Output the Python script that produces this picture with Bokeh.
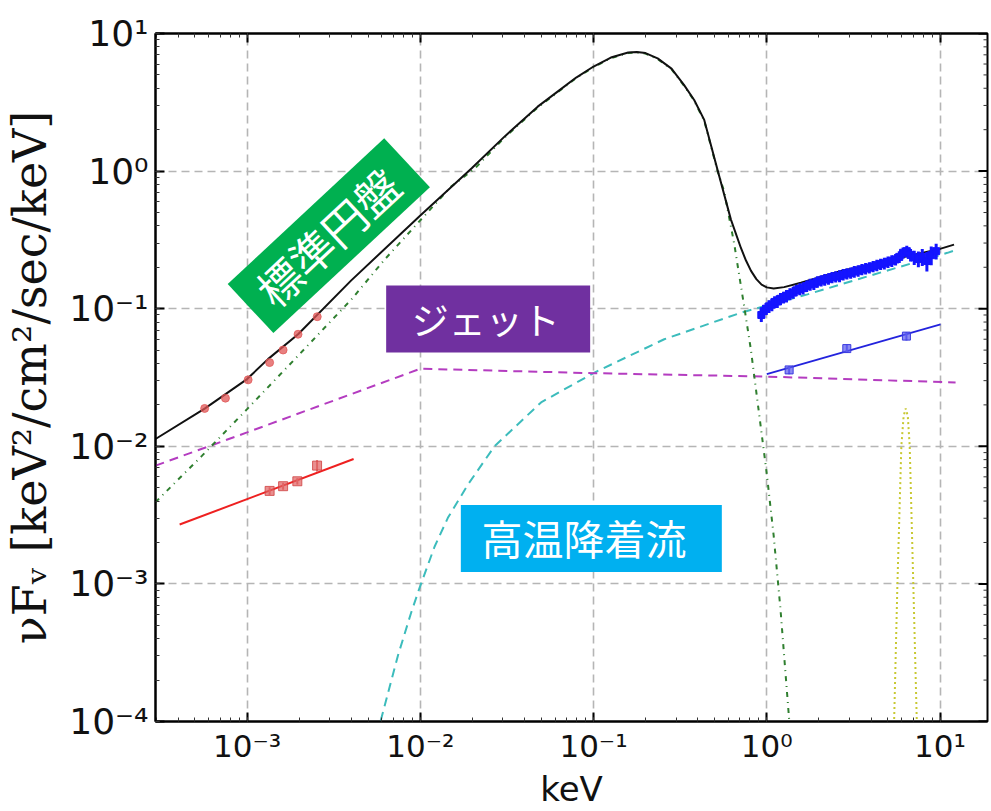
import numpy as np
from bokeh.plotting import figure
from bokeh.models import Range1d, LogAxis, LogTicker, CustomJSTickFormatter
from bokeh.core.properties import value
from bokeh.embed import file_html
from bokeh.resources import INLINE

# ---------------- data (keV, keV^2/cm^2/s/keV) ----------------
total_keV = [2.96e-4, 5.69e-4, 1.0e-3, 1.32e-3, 1.97e-3, 3.98e-3, 0.01, 0.0198, 0.0306,
             0.0476, 0.0631, 0.0794, 0.100, 0.1259, 0.1585, 0.1778, 0.1995, 0.2344,
             0.2818, 0.3334, 0.381, 0.4355, 0.520, 0.621, 0.710, 0.7586, 0.811, 0.871,
             0.933, 1.0, 1.096, 1.259, 1.574, 2.655, 5.01, 10.0, 12.05]
total_flux = [0.0113, 0.0188, 0.0308, 0.0430, 0.0652, 0.160, 0.476, 1.05, 1.78,
              2.94, 3.846, 4.786, 5.754, 6.683, 7.278, 7.345, 7.211, 6.592,
              5.559, 4.217, 3.289, 2.355, 1.02, 0.444, 0.275, 0.2239, 0.1884, 0.1641,
              0.1496, 0.1429, 0.1403, 0.1435, 0.1542, 0.1871, 0.224, 0.272, 0.292]

disk_keV = [2.96e-4, 5.50e-4, 1.0e-3, 1.884e-3, 4.00e-3, 6.22e-3, 9.68e-3, 1.507e-2,
            2.056e-2, 0.0306, 0.0476, 0.0631, 0.0794, 0.100, 0.1259, 0.1585, 0.1778,
            0.1995, 0.2344, 0.2818, 0.3334, 0.381, 0.4355, 0.520, 0.568, 0.649, 0.740,
            0.809, 1.0, 1.096, 1.199, 1.349, 1.396]
disk_flux = [0.003926, 0.00855, 0.01862, 0.04295, 0.1167, 0.2275, 0.4198, 0.7727,
             1.04, 1.75, 2.90, 3.80, 4.74, 5.70, 6.62, 7.21, 7.28, 7.14, 6.53,
             5.50, 4.17, 3.25, 2.32, 1.0, 0.7079, 0.2951, 0.1045, 0.0507, 0.00631,
             0.00224, 6.61e-4, 1.0e-4, 6.31e-5]

jet_keV = [2.96e-4, 1.0e-3, 0.01, 0.1, 1.0, 12.3]
jet_flux = [0.00723, 0.01262, 0.0366, 0.0340, 0.0321, 0.0291]

hot_keV = [5.62e-3, 5.89e-3, 7.43e-3, 8.85e-3, 9.89e-3, 1.208e-2, 1.442e-2, 1.879e-2,
           2.679e-2, 4.977e-2, 0.1012, 0.2559, 0.7096, 1.718, 4.159, 11.04, 12.30]
hot_flux = [7.94e-5, 1.0e-4, 3.02e-4, 6.17e-4, 9.33e-4, 1.862e-3, 3.02e-3, 5.25e-3,
            1.0e-2, 2.084e-2, 3.436e-2, 5.998e-2, 9.354e-2, 0.1271, 0.1774, 0.2547, 0.2661]

line_keV = [5.370, 5.433, 5.675, 5.984, 6.166, 6.339, 6.516, 6.683, 7.015, 7.345, 7.430]
line_flux = [6.31e-5, 1.0e-4, 9.77e-4, 1.009e-2, 1.660e-2, 1.884e-2, 1.660e-2, 1.009e-2,
             9.77e-4, 1.0e-4, 6.31e-5]

opt_hi_keV = [5.69e-4, 7.50e-4, 1.014e-3, 1.349e-3, 1.614e-3, 1.968e-3, 2.541e-3]
opt_hi_flux = [0.01884, 0.02239, 0.0304, 0.0406, 0.0501, 0.0652, 0.0875]

opt_lo_keV = [1.349e-3, 1.614e-3, 1.950e-3, 2.535e-3]
opt_lo_flux = [0.00474, 0.00513, 0.00557, 0.00724]
opt_lo_err = [0.0003, 0.0003, 0.0003, 0.0007]

opt_fit_keV = [4.08e-4, 4.12e-3]
opt_fit_flux = [0.00270, 0.00809]

xlo_keV = [1.346, 2.897, 6.40]
xlo_flux = [0.0359, 0.0513, 0.0632]
xlo_err = [0.0025, 0.0035, 0.0045]

xlo_fit_keV = [1.0, 10.07]
xlo_fit_flux = [0.0334, 0.0769]

spec_keV = [0.93, 0.96, 0.99, 1.03, 1.07, 1.11, 1.15, 1.2, 1.25, 1.3, 1.36, 1.42, 1.48,
            1.55, 1.62, 1.7, 1.78, 1.87, 1.96, 2.06, 2.16, 2.27, 2.38, 2.5, 2.63, 2.76,
            2.9, 3.05, 3.2, 3.37, 3.54, 3.72, 3.91, 4.11, 4.32, 4.54, 4.77, 5.01, 5.27,
            5.54, 5.82, 6.12, 6.43, 6.76, 7.1, 7.5, 7.9, 8.4, 8.9, 9.5]
spec_flux = [0.090, 0.096, 0.100, 0.104, 0.107, 0.112, 0.113, 0.118, 0.121, 0.124, 0.128,
             0.131, 0.136, 0.139, 0.141, 0.146, 0.150, 0.152, 0.157, 0.160, 0.163, 0.165,
             0.169, 0.171, 0.173, 0.177, 0.180, 0.182, 0.186, 0.189, 0.193, 0.196, 0.199,
             0.203, 0.207, 0.211, 0.214, 0.219, 0.223, 0.228, 0.238, 0.255, 0.262, 0.246,
             0.236, 0.230, 0.238, 0.222, 0.245, 0.262]
spec_err = [0.010, 0.010, 0.010, 0.011, 0.011, 0.011, 0.012, 0.012, 0.012, 0.013, 0.013,
            0.013, 0.013, 0.014, 0.014, 0.014, 0.015, 0.015, 0.015, 0.015, 0.016, 0.016,
            0.016, 0.016, 0.017, 0.017, 0.017, 0.017, 0.018, 0.018, 0.018, 0.019, 0.019,
            0.019, 0.02, 0.02, 0.021, 0.021, 0.022, 0.022, 0.023, 0.024, 0.025, 0.026,
            0.028, 0.030, 0.034, 0.036, 0.038, 0.034]

labels = ["標準円盤", "ジェット", "高温降着流"]
label_keV = [0.00290, 0.02390, 0.0880]
label_flux = [0.335, 0.0848, 0.00221]
box_keV = [0.002963, 0.02464, 0.0971]
box_flux = [0.3396, 0.0843, 0.002138]
box_colors = ["#00b050", "#7030a0", "#00b0f0"]

X_MIN, X_MAX = 2.96e-4, 18.8
Y_MIN, Y_MAX = 1e-4, 10.0

# ---------------- figure ----------------
p = figure(width=991, height=811, x_axis_type="log", y_axis_type="log",
           x_range=Range1d(X_MIN, X_MAX), y_range=Range1d(Y_MIN, Y_MAX),
           output_backend="svg", toolbar_location=None,
           min_border_left=154, min_border_right=4, min_border_top=33,
           min_border_bottom=88)
p.background_fill_color = "white"
p.border_fill_color = "white"
p.outline_line_color = "black"
p.outline_line_width = 2

sup_code = """
const e = Math.round(Math.log10(tick));
const m = {"-":"\u207b","0":"\u2070","1":"\u00b9","2":"\u00b2","3":"\u00b3","4":"\u2074",
           "5":"\u2075","6":"\u2076","7":"\u2077","8":"\u2078","9":"\u2079"};
return "10" + String(e).split("").map(c => m[c]).join("");
"""

def style_axis(ax, show_labels):
    ax.ticker = LogTicker(num_minor_ticks=10)
    ax.axis_line_color = "black"
    ax.axis_line_width = 2
    ax.major_tick_in = 9
    ax.major_tick_out = 0
    ax.minor_tick_in = 4
    ax.minor_tick_out = 0
    ax.major_tick_line_width = 2
    ax.minor_tick_line_width = 1
    ax.major_tick_line_color = "black"
    ax.minor_tick_line_color = "#333333"
    if show_labels:
        ax.formatter = CustomJSTickFormatter(code=sup_code)
    else:
        ax.formatter = CustomJSTickFormatter(code="return '';")
        ax.major_label_standoff = 0
        ax.major_label_text_font_size = "1px"

style_axis(p.xaxis[0], True)
style_axis(p.yaxis[0], True)
p.xaxis.major_label_text_font = "DejaVu Sans"
p.xaxis.major_label_text_font_size = "31px"
p.xaxis.major_label_standoff = 6
p.xaxis.major_label_text_color = "#111111"
p.yaxis.major_label_text_font = "DejaVu Sans"
p.yaxis.major_label_text_font_size = "36px"
p.yaxis.major_label_standoff = 7
p.yaxis.major_label_text_color = "#111111"

p.xaxis.axis_label = "keV"
p.xaxis.axis_label_text_font = "DejaVu Sans"
p.xaxis.axis_label_text_font_size = "34px"
p.xaxis.axis_label_text_font_style = "normal"
p.xaxis.axis_label_standoff = 2
p.xaxis.axis_label_text_color = "#111111"

p.yaxis.axis_label = "νFᵥ [keV²/cm²/sec/keV]"
p.yaxis.axis_label_text_font = "DejaVu Serif"
p.yaxis.axis_label_text_font_size = "46px"
p.yaxis.axis_label_text_font_style = "normal"
p.yaxis.axis_label_standoff = 9
p.yaxis.axis_label_text_color = "#111111"

top_ax = LogAxis()
style_axis(top_ax, False)
p.add_layout(top_ax, "above")

# inward ticks on the right spine
maj_y = [10.0 ** k for k in range(-4, 2)]
min_y = [m * 10.0 ** k for k in range(-4, 1) for m in range(2, 10)]
p.scatter([X_MAX] * len(maj_y), maj_y, marker="dash", size=18, line_color="black",
          line_width=2)
p.scatter([X_MAX] * len(min_y), min_y, marker="dash", size=8, line_color="#333333",
          line_width=1)

for g in (p.xgrid[0], p.ygrid[0]):
    g.grid_line_color = "#b5b5b5"
    g.grid_line_dash = "8 5"
    g.grid_line_width = 1.6

# ---------------- model curves ----------------
p.line(hot_keV, hot_flux, line_color="#3cbcbc", line_width=2, line_dash="9 6")
p.line(jet_keV, jet_flux, line_color="#b43cc0", line_width=2, line_dash="9 6")
p.line(disk_keV, disk_flux, line_color="#2f7f2f", line_width=2, line_dash="5 5 1 5")
p.line(line_keV, line_flux, line_color="#c8c832", line_width=2, line_dash="2 3")
p.line(total_keV, total_flux, line_color="#111111", line_width=2)

# ---------------- optical / UV data ----------------
p.line(opt_fit_keV, opt_fit_flux, line_color="#ee2020", line_width=2)
p.scatter(opt_hi_keV, opt_hi_flux, marker="circle", size=8, fill_color="#e05555",
          line_color="#e05555", fill_alpha=0.75, line_alpha=0.75)
olo = np.array(opt_lo_flux)
oerr = np.array(opt_lo_err)
p.segment(opt_lo_keV, olo - oerr, opt_lo_keV, olo + oerr, line_color="#e07070", line_width=2)
p.scatter(opt_lo_keV, opt_lo_flux, marker="square", size=9, fill_color="#e06060",
          line_color="#d04040", fill_alpha=0.7, line_alpha=0.8)

# ---------------- X-ray data ----------------
p.line(xlo_fit_keV, xlo_fit_flux, line_color="#2323dd", line_width=1.8)
xl = np.array(xlo_flux)
xe = np.array(xlo_err)
p.segment(xlo_keV, xl - xe, xlo_keV, xl + xe, line_color="#5a5aee", line_width=2)
p.scatter(xlo_keV, xlo_flux, marker="square", size=8, fill_color="#5a5aee",
          line_color="#3a3ae0", fill_alpha=0.7)

sk = np.array(spec_keV)
sf = np.array(spec_flux)
se = np.array(spec_err)
p.segment(sk, sf - se, sk, sf + se, line_color="#1414ff", line_width=3)
p.segment(sk * 0.975, sf, sk * 1.025, sf, line_color="#1414ff", line_width=4)
p.scatter(sk, sf, marker="square", size=7, fill_color="#1414ff", line_color="#1414ff")

# ---------------- labels ----------------
sizes = [(214, 67, 43), (204, 67, 0), (261, 67, 0)]
for (w, h, a), bx, by, c in zip(sizes, box_keV, box_flux, box_colors):
    p.rect([bx], [by], width=w, height=h, width_units="screen", height_units="screen",
           angle=a, angle_units="deg", fill_color=c, line_color=None)

fsz = ["44px", "37px", "41px"]
angles = [43, 0, 0]
for t, lx, ly, fs, a in zip(labels, label_keV, label_flux, fsz, angles):
    p.text([lx], [ly], text=[t], text_color="white", text_font=value("Noto Sans CJK JP"),
           text_font_size=fs, text_align="center", text_baseline="middle",
           angle=a, angle_units="deg")

open("out.html", "w").write(file_html(p, INLINE))
